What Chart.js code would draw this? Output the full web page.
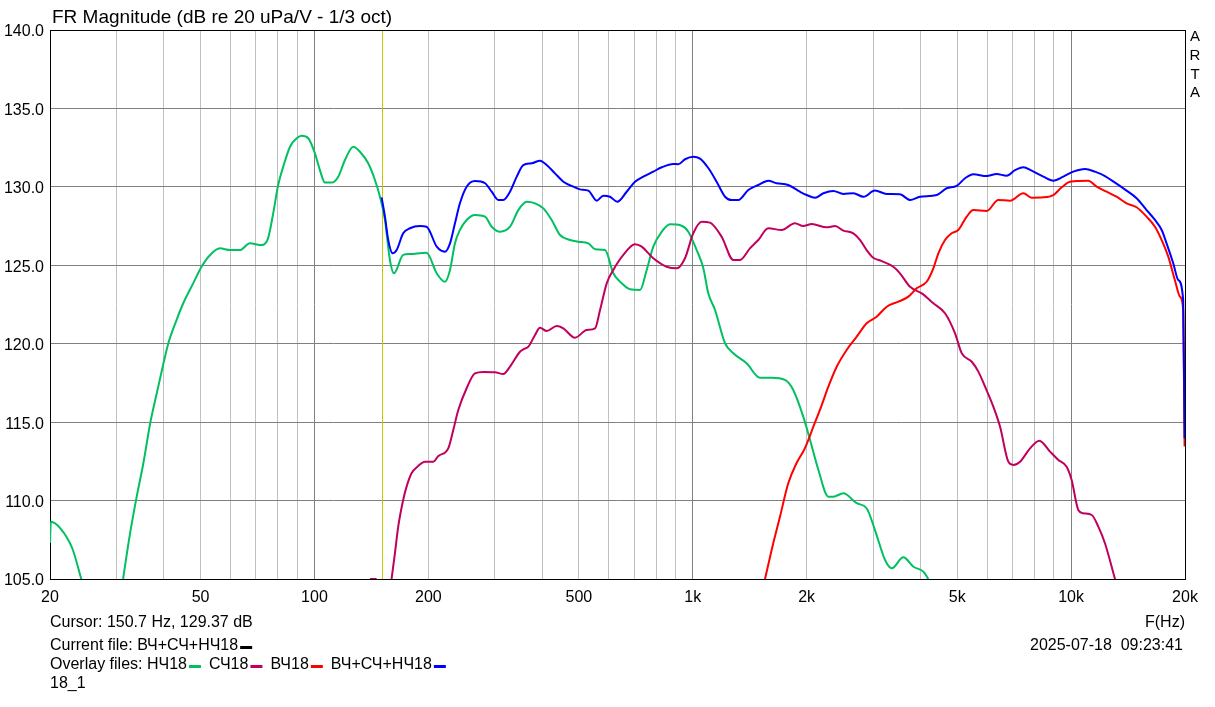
<!DOCTYPE html>
<html>
<head>
<meta charset="utf-8">
<title>FR Magnitude</title>
<script src="https://cdn.jsdelivr.net/npm/chart.js@4.4.1/dist/chart.umd.min.js"></script>
<style>
  html, body { margin: 0; padding: 0; background: #fff; }
  canvas { display: block; }
</style>
</head>
<body>
<canvas id="chart" width="1215" height="707"></canvas>
<script>
// --- data (Hz / dB) ---
const lfFreq = [20, 20.1, 21.3, 22.9, 24.2, 27.5, 31.2, 32.5, 33.9, 35.3, 36.8, 38.3, 39.9, 41.1, 43.2, 45.0, 47.8, 50.3, 53.0, 56.3, 59.8, 63.5, 67.5, 72.5, 75.4, 77.8, 80.2, 82.7, 86.2, 89.8, 92.5, 96.3, 100.3, 103.4, 106.6, 111.0, 115.6, 120.4, 126.6, 131.9, 138.7, 144.5, 149.0, 153.6, 158.3, 162.2, 171.6, 178.8, 197.8, 210.5, 221.3, 228.2, 235.2, 242.4, 252.5, 265.6, 282.5, 294.1, 309.4, 328.8, 345.8, 364.1, 382.9, 402.7, 423.7, 445.8, 473.7, 498.2, 529.6, 551.7, 586.3, 616.5, 649, 682.4, 725.3, 755.5, 786.4, 827.8, 870.6, 934.8, 973, 1024, 1066, 1099, 1145, 1217, 1280, 1388, 1505, 1616, 1752, 1843, 1959, 2042, 2148, 2282, 2352, 2500, 2712, 2881, 3031, 3223, 3357, 3602, 3830, 4069, 4193]
const lfDb = [107.3, 108.65, 108.23, 106.96, 105.0, null, 105.0, 107.8, 110.25, 112.38, 114.93, 116.84, 118.75, 120.03, 121.51, 122.58, 123.85, 124.91, 125.66, 126.08, 125.97, 125.97, 126.4, 126.29, 126.72, 128.31, 130.12, 131.29, 132.56, 133.1, 133.26, 133.1, 132.14, 131.07, 130.27, 130.27, 130.65, 131.71, 132.56, 132.24, 131.5, 130.44, 129.37, 127.89, 125.34, 124.49, 125.66, 125.72, 125.8, 124.49, 123.95, 124.7, 126.4, 127.25, 127.89, 128.21, 128.1, 127.46, 127.14, 127.46, 128.52, 129.05, 128.95, 128.63, 127.89, 126.93, 126.61, 126.5, 126.4, 126.02, 125.97, 124.49, 123.85, 123.47, 123.42, 124.7, 126.19, 127.14, 127.61, 127.52, 127.14, 125.97, 124.83, 123.21, 122.15, 120.03, 119.39, 118.75, 117.83, 117.83, 117.69, 117.05, 115.35, 113.86, 111.95, 110.25, 110.25, 110.46, 109.83, 109.51, 108.12, 106.21, 105.68, 106.38, 105.78, 105.47, 105.0]

const midFreq = [140.2, 146, 152, 159.9, 163.2, 166.5, 171.6, 175.2, 180.6, 188, 195.9, 206.2, 212.6, 225.8, 232.8, 240, 252.5, 265.6, 279.6, 300, 315.7, 328.8, 349.4, 356.5, 367.6, 382.9, 394.6, 411, 436.8, 454.9, 488.3, 524.4, 551.7, 568.7, 592.3, 616.5, 655.3, 703.5, 732.8, 786.4, 853.4, 906.8, 953.8, 1003, 1056, 1110, 1192, 1280, 1333, 1416, 1490, 1583, 1716, 1862, 1959, 2063, 2260, 2377, 2500, 2657, 2769, 2881, 3000, 3157, 3390, 3529, 3753, 4029, 4324, 4642, 4934, 5140, 5464, 5686, 5924, 6229, 6490, 6824, 7036, 7328, 7789, 8243, 8797, 9252, 9730, 10032, 10448, 10771, 11337, 11800, 12287, 13064]
const midDb = [105, 105, null, 105, 106.64, 108.34, 110.04, 110.89, 111.74, 112.2, 112.48, 112.48, 112.84, 113.33, 114.5, 115.77, 117.16, 118.11, 118.2, 118.18, 118.07, 118.54, 119.49, 119.64, 119.81, 120.56, 121.02, 120.81, 121.13, 120.98, 120.38, 120.87, 120.98, 122.15, 123.85, 124.7, 125.66, 126.34, 126.19, 125.45, 124.91, 124.81, 125.45, 127.04, 127.78, 127.72, 126.82, 125.34, 125.34, 126.08, 126.61, 127.36, 127.25, 127.68, 127.5, 127.63, 127.42, 127.5, 127.21, 127.04, 126.61, 125.97, 125.48, 125.27, 124.91, 124.49, 123.63, 123.21, 122.58, 121.94, 120.66, 119.39, 118.85, 118.22, 117.26, 115.99, 114.71, 112.48, 112.27, 112.48, 113.33, 113.82, 113.12, 112.59, 112.16, 111.31, 109.4, 109.19, 109.08, 108.34, 107.28, 105]

const hfFreq = [1552, 1632, 1700, 1788, 1880, 1978, 2083, 2192, 2282, 2401, 2551, 2712, 2881, 3062, 3255, 3494, 3714, 3906, 4151, 4324, 4458, 4642, 4833, 5034, 5297, 5516, 5981, 6422, 6896, 7477, 7864, 8446, 8976, 9445, 9935, 11104, 11678, 12412, 13190, 14016, 14896, 15830, 16660, 17354, 18064, 18802, 19400, 19782, 19950]
const hfDb = [105, 107.28, 108.97, 111.1, 112.38, 113.33, 114.71, 116.09, 117.26, 118.53, 119.6, 120.45, 121.3, 121.72, 122.36, 122.68, 123.0, 123.53, 123.95, 124.81, 125.76, 126.61, 127.04, 127.25, 128.1, 128.52, 128.46, 129.16, 129.12, 129.59, 129.31, 129.33, 129.48, 129.97, 130.33, 130.39, 130.01, 129.69, 129.37, 128.95, 128.7, 128.1, 127.46, 126.61, 125.55, 124.06, 123.0, 122.15, 113.44]

const sumFreq = [150.5, 153.6, 156.7, 160.9, 164.9, 171.6, 178.8, 190, 197.8, 210.5, 221.3, 228.2, 235.2, 242.4, 252.5, 265.6, 282.5, 294.1, 306.2, 315.7, 328.8, 342.5, 356.5, 375.4, 394.6, 411, 432.4, 454.9, 483.3, 503.3, 529.6, 557.4, 580.2, 604.2, 631.8, 668.8, 703.5, 740, 786.4, 827.8, 888.4, 915.6, 953.8, 1003, 1045, 1099, 1156, 1217, 1266, 1319, 1402, 1490, 1583, 1666, 1788, 1920, 2000, 2105, 2214, 2352, 2500, 2657, 2826, 3031, 3255, 3529, 3753, 3987, 4413, 4689, 4983, 5244, 5516, 5981, 6357, 6755, 7108, 7477, 7864, 8446, 8976, 9538, 10136, 10884, 11558, 12287, 13064, 14016, 14896, 15830, 16660, 17354, 17878, 18620, 19196, 19782, 19950]
const sumDb = [129.33, 128.1, 126.61, 125.76, 125.97, 127.04, 127.36, 127.5, 127.46, 126.19, 125.87, 126.4, 127.68, 128.95, 130.01, 130.37, 130.23, 129.69, 129.16, 129.16, 129.69, 130.65, 131.39, 131.5, 131.67, 131.39, 130.86, 130.33, 130.01, 129.84, 129.76, 129.12, 129.44, 129.37, 129.05, 129.69, 130.33, 130.65, 130.97, 131.25, 131.46, 131.44, 131.76, 131.92, 131.8, 131.2, 130.33, 129.37, 129.16, 129.16, 129.8, 130.12, 130.39, 130.23, 130.12, 129.69, 129.48, 129.31, 129.59, 129.74, 129.55, 129.59, 129.37, 129.76, 129.55, 129.53, 129.16, 129.37, 129.48, 129.91, 130.06, 130.55, 130.8, 130.69, 130.82, 130.71, 131.07, 131.25, 131.03, 130.65, 130.39, 130.65, 130.97, 131.14, 130.97, 130.69, 130.27, 129.76, 129.27, 128.52, 127.89, 127.25, 126.4, 125.13, 124.06, 122.79, 113.97]

// axes
const xGrid = [20, 30, 40, 50, 60, 70, 80, 90, 100, 200, 300, 400, 500, 600, 700, 800, 900, 1000, 2000, 3000, 4000, 5000, 6000, 7000, 8000, 9000, 10000, 20000]
const xMajor = [100, 1000, 10000]
const xLabelValues = [20, 50, 100, 200, 500, 1000, 2000, 5000, 10000, 20000]
const xLabelText = ["20", "50", "100", "200", "500", "1k", "2k", "5k", "10k", "20k"]
const yTicks = [105, 110, 115, 120, 125, 130, 135, 140]

// texts
const titleText = "FR Magnitude (dB re 20 uPa/V - 1/3 oct)"
const cursorFreq = 150.7
const cursorText = "Cursor: 150.7 Hz, 129.37 dB"
const currentFile = "ВЧ+СЧ+НЧ18"
const overlayNames = ["НЧ18", "СЧ18", "ВЧ18", "ВЧ+СЧ+НЧ18"]
const seriesColors = ["#00c060", "#c0005c", "#ff0000", "#0000ff"]
const dateText = "2025-07-18  09:23:41"
const fileNote = "18_1"

const FONT = "'Liberation Sans', Arial, sans-serif"
Chart.defaults.font.family = FONT
Chart.defaults.font.size = 16
Chart.defaults.color = "#000"

const pts = (fs, ds) => fs.map((f, i) => ({ x: f, y: ds[i] }))

const artaPlugin = {
  id: "arta",
  beforeDatasetsDraw(chart) {
    const { ctx, chartArea: a, scales } = chart
    ctx.save()
    // plot frame
    ctx.strokeStyle = "#000"
    ctx.lineWidth = 1
    ctx.strokeRect(a.left + 0.5, a.top + 0.5, a.right - a.left, a.bottom - a.top)
    // cursor
    const cx = Math.round(scales.x.getPixelForValue(cursorFreq)) + 0.5
    ctx.strokeStyle = "#c8c800"
    ctx.beginPath()
    ctx.moveTo(cx, a.top + 1)
    ctx.lineTo(cx, a.bottom)
    ctx.stroke()
    ctx.restore()
  },
  afterDraw(chart) {
    const { ctx } = chart
    ctx.save()
    ctx.fillStyle = "#000"
    ctx.textBaseline = "alphabetic"
    ctx.textAlign = "left"

    ctx.font = "19px " + FONT
    ctx.fillText(titleText, 52, 23)

    ctx.font = "16px " + FONT
    ctx.fillText(cursorText, 50, 627)

    const cur = "Current file: " + currentFile
    ctx.fillText(cur, 50, 650)
    ctx.fillRect(50 + ctx.measureText(cur).width + 2, 646, 12, 3)

    const ov = "Overlay files: "
    ctx.fillText(ov, 50, 669)
    let x = 50 + ctx.measureText(ov).width
    overlayNames.forEach((name, i) => {
      ctx.fillStyle = "#000"
      ctx.fillText(name, x, 669)
      x += ctx.measureText(name).width + 2
      ctx.fillStyle = seriesColors[i]
      ctx.fillRect(x, 665, 12, 3)
      x += 12 + 8
    })
    ctx.fillStyle = "#000"
    ctx.fillText(fileNote, 50, 688)

    ctx.textAlign = "right"
    ctx.fillText("F(Hz)", 1185, 627)
    ctx.fillText(dateText, 1183, 650)

    ctx.textAlign = "center"
    ctx.font = "15px " + FONT
    const letters = ["A", "R", "T", "A"]
    const base = [41, 60, 79, 97]
    letters.forEach((l, i) => ctx.fillText(l, 1195, base[i]))
    ctx.restore()
  },
}

const ctx = document.getElementById("chart").getContext("2d")

new Chart(ctx, {
  type: "line",
  data: {
    datasets: [
      { label: overlayNames[0], data: pts(lfFreq, lfDb), borderColor: seriesColors[0], order: 4 },
      { label: overlayNames[1], data: pts(midFreq, midDb), borderColor: seriesColors[1], order: 3 },
      { label: overlayNames[2], data: pts(hfFreq, hfDb), borderColor: seriesColors[2], order: 2 },
      { label: overlayNames[3], data: pts(sumFreq, sumDb), borderColor: seriesColors[3], order: 1 },
    ],
  },
  options: {
    responsive: false,
    animation: false,
    devicePixelRatio: 1,
    layout: { padding: { top: 30, right: 30, left: 0, bottom: 0 } },
    elements: {
      point: { radius: 0 },
      line: { borderWidth: 2, cubicInterpolationMode: "monotone", fill: false },
    },
    plugins: {
      legend: { display: false },
      tooltip: { enabled: false },
      title: { display: false },
    },
    scales: {
      x: {
        type: "logarithmic",
        min: 20,
        max: 20000,
        afterBuildTicks: (s) => {
          s.ticks = xGrid.map((v) => ({ value: v }))
        },
        afterFit: (s) => {
          s.height = 128
        },
        grid: {
          drawTicks: false,
          color: (c) => (c.tick && xMajor.includes(c.tick.value) ? "#808080" : "#c0c0c0"),
        },
        border: { display: false },
        ticks: {
          autoSkip: false,
          maxRotation: 0,
          padding: 9,
          callback: (v) => {
            const i = xLabelValues.indexOf(v)
            return i < 0 ? "" : xLabelText[i]
          },
        },
      },
      y: {
        min: 105,
        max: 140,
        afterBuildTicks: (s) => {
          s.ticks = yTicks.map((v) => ({ value: v }))
        },
        afterFit: (s) => {
          s.width = 50
        },
        grid: { drawTicks: false, color: "#808080" },
        border: { display: false },
        ticks: {
          padding: 6,
          labelOffset: 2,
          callback: (v) => Number(v).toFixed(1),
        },
      },
    },
  },
  plugins: [artaPlugin],
})
</script>
</body>
</html>
